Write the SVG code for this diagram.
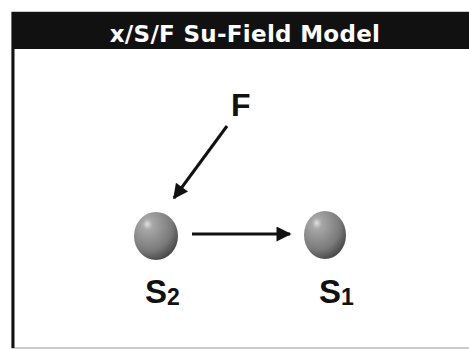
<svg xmlns="http://www.w3.org/2000/svg" width="469" height="349" viewBox="0 0 469 349">
<style>
.title{font-family:"DejaVu Sans","Liberation Sans",sans-serif;font-weight:bold;font-size:23px;letter-spacing:0.3px;fill:#fff}
.lbl{font-family:"Liberation Sans",Arial,sans-serif;font-weight:bold;fill:#111}
.conn{stroke:#111;stroke-width:3;fill:none}
</style>
<defs>
<radialGradient id="sph" cx="0.35" cy="0.3" r="0.75" fx="0.3" fy="0.25">
<stop offset="0" stop-color="#e0e0e0"/>
<stop offset="0.15" stop-color="#a8a8a8"/>
<stop offset="0.7" stop-color="#7a7a7a"/>
<stop offset="1" stop-color="#454545"/>
</radialGradient>
<marker id="ah" viewBox="0 0 10 10" refX="9" refY="5" markerWidth="6" markerHeight="5" markerUnits="strokeWidth" orient="auto">
<path d="M0,0 L10,5 L0,10 z" fill="#111"/>
</marker>
</defs>
<rect width="469" height="349" fill="#fff"/>
<g id="frame">
<rect x="12" y="12" width="470" height="336" fill="#fff" stroke="#999" stroke-width="1"/>
<rect x="12" y="12" width="470" height="37" fill="#111"/>
<line x1="13" y1="12" x2="13" y2="348" stroke="#111" stroke-width="3"/>
<text class="title" x="245" y="42" text-anchor="middle">x/S/F Su-Field Model</text>
</g>
<g id="connectors">
<line class="conn" x1="192" y1="234" x2="290" y2="234" marker-end="url(#ah)"/>
<line class="conn" x1="227" y1="126" x2="174" y2="198" marker-end="url(#ah)"/>
</g>
<g id="F">
<text class="lbl" x="231" y="116" font-size="32">F</text>
</g>
<g id="S2">
<ellipse cx="156" cy="236" rx="22" ry="24" fill="url(#sph)"/>
<text class="lbl" x="145" y="303" font-size="33">S<tspan font-size="23" dy="2">2</tspan></text>
</g>
<g id="S1">
<ellipse cx="325" cy="235" rx="21" ry="24" fill="url(#sph)"/>
<text class="lbl" x="319" y="303" font-size="33">S<tspan font-size="23" dy="2">1</tspan></text>
</g>
</svg>
